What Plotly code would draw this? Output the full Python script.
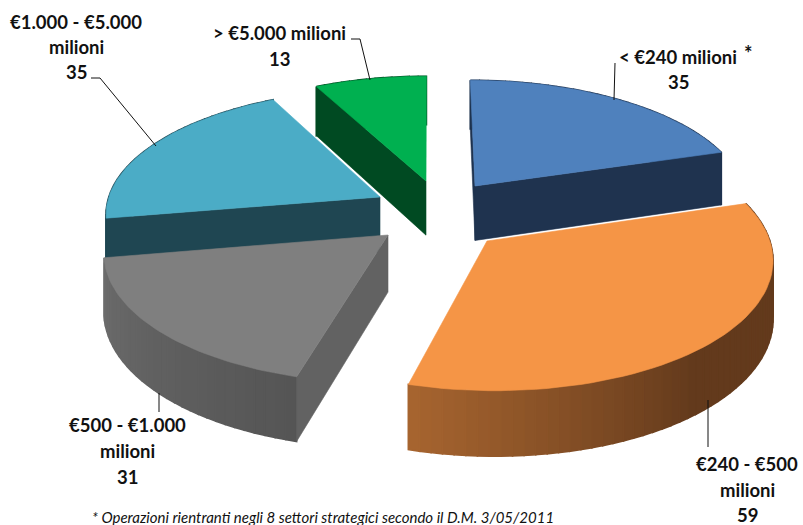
import numpy as np
import plotly.graph_objects as go

# Number of operations per size class, clockwise from twelve o'clock
categories = ["< €240 milioni", "€240 - €500 milioni", "€500 - €1.000 milioni",
              "€1.000 - €5.000 milioni", "> €5.000 milioni"]
values = [35, 59, 31, 35, 13]
label_lines = [["< €240 milioni", "35"],
               ["€240 - €500", "milioni", "59"],
               ["€500 - €1.000", "milioni", "31"],
               ["€1.000 - €5.000", "milioni", "35"],
               ["> €5.000 milioni", "13"]]
footnote = "* Operazioni rientranti negli 8 settori strategici secondo il D.M. 3/05/2011"

# Slice styling: top face, flat side face, wall shade at rim start and rim end
top_colors = ["#4F81BD", "#F59546", "#7F7F7F", "#4BACC6", "#00B050"]
side_colors = ["#1F334F", "#63391A", "#626262", "#1F4652", "#004A22"]
wall_start = ["#1F334F", "#633A1C", "#555555", "#1F4652", "#004A22"]
wall_end = ["#1F334F", "#A6642F", "#6C6C6C", "#1F4652", "#004A22"]
# Where along the rim the wall shade starts to change
wall_ramp = [0.0, 0.55, 0.0, 0.0, 0.0]
# Which cut faces are visible: (at rim start, at rim end)
cut_faces = [(True, True), (False, False), (True, False), (True, False), (True, False)]

# Exploded apex of each slice on the page
apex_x = [475, 487, 388, 380, 426]
apex_y = [186, 241, 235, 197, 181]
RX, RY, PERSP, DEPTH = 276, 125, 0.12, 56
VX, VY = 430, 215  # vanishing axis and horizon reference of the ground plane
DRAW_ORDER = [4, 3, 0, 2, 1]


def ground_of_apex(i):
    """Ground-plane position of a slice's apex, from where it sits on the page."""
    t = (VY - apex_y[i]) / RY
    gy = t / (1 - PERSP * t)
    s = 1 / (1 + PERSP * gy)
    return (apex_x[i] - VX) / (RX * s), gy


def project(i, radius, angle, drop=0.0):
    """Map polar pie coordinates onto the page through the ground-plane perspective."""
    ox, oy = ground_of_apex(i)
    gx, gy = ox + radius * np.sin(angle), oy + radius * np.cos(angle)
    s = 1 / (1 + PERSP * gy)
    return VX + RX * gx * s, VY - RY * gy * s + drop * DEPTH * s


def hex_mix(a, b, t):
    ca = [int(a[k:k + 2], 16) for k in (1, 3, 5)]
    cb = [int(b[k:k + 2], 16) for k in (1, 3, 5)]
    return "#%02x%02x%02x" % tuple(round(p + (q - p) * t) for p, q in zip(ca, cb))


fig = go.Figure()


def polygon(xs, ys, color, width=0.6):
    fig.add_trace(go.Scatter(x=list(xs) + [xs[0]], y=list(ys) + [ys[0]], mode="lines",
                             fill="toself", fillcolor=color,
                             line=dict(color=color, width=width), hoverinfo="skip",
                             showlegend=False))


total = sum(values)
edges = np.cumsum([0] + values) / total * 2 * np.pi

for i in DRAW_ORDER:
    a0, a1 = edges[i], edges[i + 1]
    # Outer wall as narrow strips so its shade can vary along the rim
    steps = np.linspace(a0, a1, max(6, int(values[i])) + 1)
    for k in range(len(steps) - 1):
        u, v = steps[k], steps[k + 1]
        pts = [project(i, 1, u), project(i, 1, v), project(i, 1, v, 1), project(i, 1, u, 1)]
        t = k / (len(steps) - 2)
        t = max(0.0, (t - wall_ramp[i]) / (1 - wall_ramp[i]))
        polygon([p[0] for p in pts], [p[1] for p in pts],
                hex_mix(wall_start[i], wall_end[i], t), width=1.6)
    # Radial cut faces
    for a, shown in zip((a0, a1), cut_faces[i]):
        if shown:
            pts = [project(i, 0, a), project(i, 1, a), project(i, 1, a, 1), project(i, 0, a, 1)]
            polygon([p[0] for p in pts], [p[1] for p in pts], side_colors[i])
    # Top face
    arc = np.linspace(a0, a1, 60)
    rim = [project(i, 1, a) for a in arc]
    polygon([apex_x[i]] + [p[0] for p in rim], [apex_y[i]] + [p[1] for p in rim], top_colors[i])

# Leader lines from each label to its slice
leaders = [([615, 614], [63, 100]),
           ([708, 708], [400, 447]),
           ([159, 159], [393, 412]),
           ([91, 100, 156], [78, 78, 146]),
           ([351, 360, 370], [39, 39, 80])]
for lx, ly in leaders:
    fig.add_trace(go.Scatter(x=lx, y=ly, mode="lines", line=dict(color="#111111", width=1),
                             hoverinfo="skip", showlegend=False))

# Slice labels, one annotation per text line
label_x = [678, 747, 127, 76, 279]
label_y = [[57, 82], [464, 490, 515], [425, 451, 477], [22, 47, 72], [33, 59]]
annotations = []
for lines, cx, rows in zip(label_lines, label_x, label_y):
    for line, cy in zip(lines, rows):
        annotations.append(dict(x=cx, y=cy, text="<b>%s</b>" % line, showarrow=False,
                                xanchor="center", yanchor="middle",
                                font=dict(family="Lato", size=18.5, color="#111111")))
annotations.append(dict(x=748, y=53, text="<b>*</b>", showarrow=False,
                        font=dict(family="Lato", size=20, color="#111111")))
annotations.append(dict(x=323, y=517, text="<i>%s</i>" % footnote, showarrow=False,
                        xanchor="center", yanchor="middle",
                        font=dict(family="Lato", size=15, color="#111111")))

fig.update_layout(width=803, height=525, margin=dict(l=0, r=0, t=0, b=0),
                  paper_bgcolor="white", plot_bgcolor="white", annotations=annotations,
                  xaxis=dict(range=[0, 803], visible=False, fixedrange=True),
                  yaxis=dict(range=[525, 0], visible=False, fixedrange=True))
fig.write_html("out.html", config={"displayModeBar": False})
